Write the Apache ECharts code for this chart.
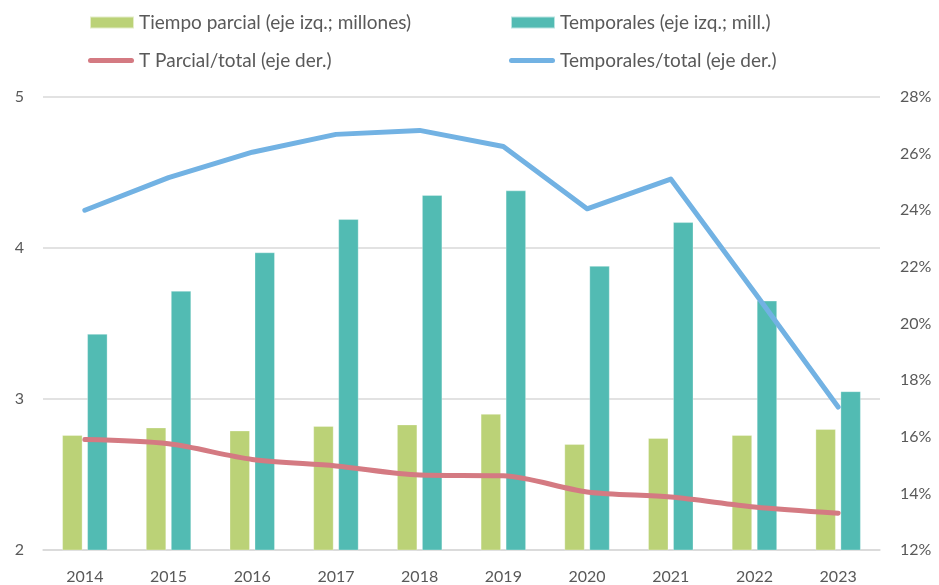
<!DOCTYPE html>
<html>
<head>
<meta charset="utf-8">
<script src="https://cdn.jsdelivr.net/npm/echarts@6/dist/echarts.min.js"></script>
<style>
  html, body { margin: 0; padding: 0; background: #ffffff; }
  #chart { width: 939px; height: 585px; }
</style>
</head>
<body>
<div id="chart"></div>
<script>
// Years on the category axis
const years = ['2014', '2015', '2016', '2017', '2018', '2019', '2020', '2021', '2022', '2023'];

// Left axis: millions of workers
const partTime = [2.76, 2.81, 2.79, 2.82, 2.83, 2.90, 2.70, 2.74, 2.76, 2.80];
const temporary = [3.43, 3.715, 3.97, 4.19, 4.35, 4.38, 3.88, 4.17, 3.65, 3.05];

// Right axis: share of total employment (%)
const partTimeShare = [15.9, 15.75, 15.2, 14.97, 14.65, 14.62, 14.05, 13.87, 13.52, 13.3];
const temporaryShare = [24.0, 25.15, 26.05, 26.68, 26.82, 26.25, 24.05, 25.1, 21.1, 17.05];

const names = {
  pt: 'Tiempo parcial (eje izq.; millones)',
  tmp: 'Temporales (eje izq.; mill.)',
  ptShare: 'T Parcial/total (eje der.)',
  tmpShare: 'Temporales/total (eje der.)'
};

const colors = {
  green: '#BBD277',
  teal: '#52BBB3',
  red: '#D47A82',
  blue: '#72B2E3',
  grid: '#D9D9D9',
  text: '#595959'
};

const font = 'Lato, sans-serif';
const legendText = { color: colors.text, fontSize: 19, fontFamily: font, lineHeight: 19 };
const lineIcon = 'path://M2.5,0 L43.5,0 A2.5,2.5 0 0 1 43.5,5 L2.5,5 A2.5,2.5 0 0 1 2.5,0 Z';

function legendItem(name, left, top, icon, w, h) {
  return {
    data: [{ name: name, icon: icon }],
    left: left, top: top,
    itemWidth: w, itemHeight: h,
    textStyle: legendText,
    selectedMode: false,
    padding: 0
  };
}

const chart = echarts.init(document.getElementById('chart'), null, { renderer: 'canvas' });

chart.setOption({
  animation: false,
  backgroundColor: '#ffffff',
  textStyle: { fontFamily: font },
  legend: [
    legendItem(names.pt, 89, 13, 'rect', 44, 12),
    legendItem(names.tmp, 510, 13, 'rect', 44, 12),
    legendItem(names.ptShare, 88, 51, lineIcon, 46, 5),
    legendItem(names.tmpShare, 509, 51, lineIcon, 46, 5)
  ],
  grid: { left: 43, right: 59, top: 97, bottom: 35, containLabel: false },
  xAxis: {
    type: 'category',
    data: years,
    axisLine: { lineStyle: { color: colors.grid, width: 1.5 } },
    axisTick: { show: false },
    axisLabel: { color: colors.text, fontSize: 16, margin: 19, fontFamily: font }
  },
  yAxis: [
    {
      type: 'value',
      min: 2, max: 5, interval: 1,
      axisLine: { show: false },
      axisTick: { show: false },
      splitLine: { lineStyle: { color: colors.grid, width: 1.5 } },
      axisLabel: { color: colors.text, fontSize: 16, margin: 19, fontFamily: font }
    },
    {
      type: 'value',
      min: 12, max: 28, interval: 2,
      position: 'right',
      axisLine: { show: false },
      axisTick: { show: false },
      splitLine: { show: false },
      axisLabel: {
        color: colors.text, fontSize: 16, margin: 20, fontFamily: font,
        formatter: '{value}%'
      }
    }
  ],
  series: [
    {
      name: names.pt,
      type: 'bar',
      data: partTime,
      yAxisIndex: 0,
      barWidth: 20,
      barGap: '25%',
      itemStyle: { color: colors.green, borderColor: 'rgba(255,255,255,0.6)', borderWidth: 0.5 }
    },
    {
      name: names.tmp,
      type: 'bar',
      data: temporary,
      yAxisIndex: 0,
      barWidth: 20,
      itemStyle: { color: colors.teal, borderColor: 'rgba(255,255,255,0.6)', borderWidth: 0.5 }
    },
    {
      name: names.ptShare,
      type: 'line',
      data: partTimeShare,
      yAxisIndex: 1,
      smooth: 0.3,
      symbol: 'none',
      lineStyle: { color: colors.red, width: 5, cap: 'round', join: 'round' },
      itemStyle: { color: colors.red }
    },
    {
      name: names.tmpShare,
      type: 'line',
      data: temporaryShare,
      yAxisIndex: 1,
      symbol: 'none',
      lineStyle: { color: colors.blue, width: 5, cap: 'round', join: 'round' },
      itemStyle: { color: colors.blue }
    }
  ]
});
</script>
</body>
</html>
